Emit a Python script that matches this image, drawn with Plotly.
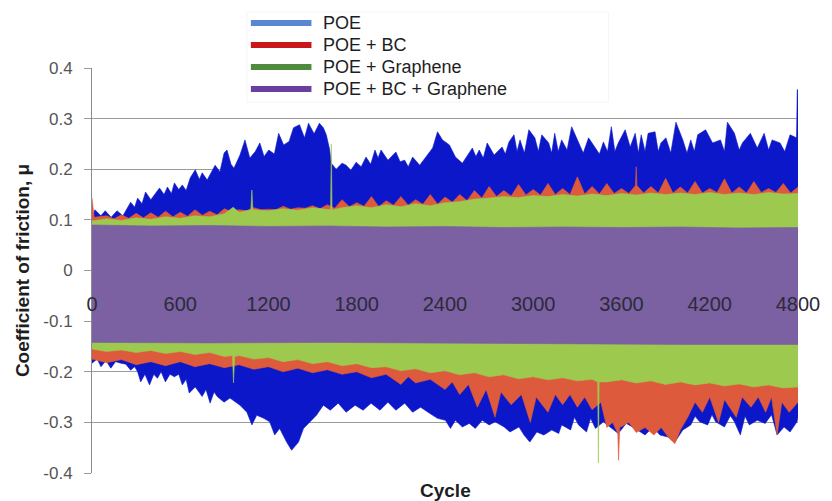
import plotly.graph_objects as go

# ---------------- data ----------------
series_names = ["POE", "POE + BC", "POE + Graphene", "POE + BC + Graphene"]

# POE: upper and lower envelope of the oscillating friction trace
poe_top_cycle = [0, 20, 60, 90, 130, 170, 210, 240, 263, 290, 310, 340, 364, 400, 425, 459, 490, 513, 540, 560,
                 590, 614, 640, 668, 702, 730, 749, 783, 837, 870, 898, 918, 945, 965, 1006, 1040, 1073, 1110,
                 1141, 1170, 1202, 1240, 1269, 1303, 1340, 1370, 1411, 1445, 1472, 1510, 1546, 1573, 1593, 1615,
                 1627, 1660, 1700, 1728, 1760, 1796, 1830, 1863, 1895, 1924, 1945, 1965, 2012, 2066, 2095, 2126,
                 2150, 2180, 2228, 2268, 2316, 2349, 2383, 2430, 2471, 2518, 2550, 2586, 2610, 2633, 2660, 2687,
                 2734, 2788, 2810, 2835, 2869, 2890, 2910, 2940, 2970, 3011, 3035, 3058, 3105, 3125, 3146, 3170,
                 3193, 3230, 3261, 3308, 3340, 3376, 3423, 3450, 3477, 3505, 3531, 3555, 3578, 3625, 3659, 3693,
                 3715, 3734, 3760, 3781, 3828, 3850, 3868, 3902, 3935, 3970, 4017, 4045, 4071, 4095, 4118, 4172,
                 4219, 4273, 4300, 4320, 4368, 4400, 4422, 4476, 4523, 4570, 4600, 4624, 4678, 4710, 4746, 4790,
                 4795, 4800]
poe_top = [0.105, 0.120, 0.108, 0.118, 0.105, 0.118, 0.108, 0.122, 0.135, 0.125, 0.143, 0.132, 0.155, 0.140,
           0.149, 0.163, 0.150, 0.165, 0.152, 0.173, 0.160, 0.169, 0.158, 0.183, 0.199, 0.180, 0.193, 0.179, 0.208,
           0.195, 0.232, 0.238, 0.210, 0.202, 0.228, 0.258, 0.222, 0.235, 0.252, 0.225, 0.238, 0.230, 0.271, 0.248,
           0.255, 0.282, 0.288, 0.262, 0.291, 0.270, 0.291, 0.282, 0.268, 0.240, 0.212, 0.200, 0.212, 0.208, 0.198,
           0.214, 0.205, 0.224, 0.210, 0.238, 0.222, 0.238, 0.218, 0.234, 0.215, 0.218, 0.205, 0.224, 0.208, 0.224,
           0.242, 0.274, 0.258, 0.248, 0.224, 0.212, 0.225, 0.242, 0.225, 0.238, 0.222, 0.252, 0.228, 0.244, 0.230,
           0.254, 0.268, 0.235, 0.258, 0.232, 0.278, 0.262, 0.235, 0.268, 0.252, 0.232, 0.271, 0.235, 0.258, 0.238,
           0.284, 0.252, 0.232, 0.262, 0.242, 0.230, 0.254, 0.235, 0.284, 0.235, 0.252, 0.278, 0.244, 0.271, 0.232,
           0.268, 0.235, 0.271, 0.274, 0.235, 0.252, 0.262, 0.232, 0.293, 0.258, 0.232, 0.258, 0.235, 0.268, 0.278,
           0.252, 0.258, 0.235, 0.293, 0.271, 0.238, 0.252, 0.271, 0.242, 0.271, 0.238, 0.258, 0.252, 0.235, 0.268,
           0.262, 0.357, 0.357]
poe_bot_cycle = [0, 35, 61, 95, 128, 160, 196, 230, 263, 290, 310, 331, 360, 391, 420, 445, 470, 499, 530, 560,
                 590, 614, 640, 661, 702, 749, 775, 803, 830, 851, 898, 938, 1006, 1053, 1087, 1120, 1168, 1208,
                 1242, 1276, 1323, 1357, 1404, 1438, 1479, 1526, 1573, 1620, 1674, 1728, 1789, 1843, 1897, 1958,
                 2012, 2066, 2126, 2180, 2234, 2295, 2349, 2403, 2437, 2471, 2518, 2565, 2606, 2653, 2700, 2741,
                 2802, 2842, 2903, 2937, 2977, 3024, 3072, 3126, 3173, 3193, 3254, 3280, 3308, 3362, 3390, 3423,
                 3477, 3531, 3578, 3632, 3693, 3760, 3814, 3861, 3916, 3963, 4017, 4071, 4100, 4132, 4186, 4215,
                 4240, 4300, 4340, 4368, 4408, 4440, 4469, 4523, 4577, 4620, 4658, 4705, 4746, 4793, 4800]
poe_bot = [-0.183, -0.175, -0.190, -0.178, -0.193, -0.180, -0.183, -0.185, -0.197, -0.190, -0.200, -0.220,
           -0.205, -0.226, -0.205, -0.213, -0.200, -0.220, -0.205, -0.210, -0.205, -0.226, -0.215, -0.242, -0.230,
           -0.249, -0.235, -0.262, -0.240, -0.249, -0.260, -0.252, -0.266, -0.280, -0.305, -0.286, -0.292, -0.299,
           -0.325, -0.312, -0.339, -0.355, -0.339, -0.312, -0.299, -0.286, -0.266, -0.276, -0.262, -0.280, -0.266,
           -0.276, -0.262, -0.276, -0.260, -0.276, -0.262, -0.280, -0.270, -0.282, -0.292, -0.296, -0.312, -0.296,
           -0.309, -0.302, -0.312, -0.296, -0.305, -0.299, -0.309, -0.319, -0.309, -0.325, -0.339, -0.319, -0.325,
           -0.315, -0.322, -0.305, -0.315, -0.290, -0.305, -0.319, -0.292, -0.312, -0.299, -0.312, -0.322, -0.302,
           -0.312, -0.325, -0.309, -0.325, -0.329, -0.339, -0.315, -0.305, -0.288, -0.299, -0.305, -0.285, -0.299,
           -0.309, -0.287, -0.299, -0.325, -0.288, -0.305, -0.296, -0.302, -0.285, -0.325, -0.309, -0.319, -0.299,
           -0.290]

# POE + BC
bc_top_cycle = [0, 15, 100, 150, 200, 250, 300, 350, 400, 450, 500, 550, 600, 650, 700, 750, 800, 850, 900, 950,
                1000, 1050, 1100, 1150, 1200, 1250, 1300, 1350, 1400, 1450, 1500, 1550, 1600, 1650, 1700, 1750,
                1800, 1850, 1900, 1950, 2000, 2050, 2100, 2150, 2200, 2250, 2300, 2350, 2400, 2450, 2500, 2550,
                2600, 2650, 2700, 2750, 2800, 2850, 2900, 2950, 3000, 3050, 3100, 3150, 3200, 3250, 3300, 3350,
                3400, 3450, 3500, 3550, 3600, 3650, 3695, 3700, 3705, 3750, 3800, 3850, 3900, 3950, 4000, 4050,
                4100, 4150, 4200, 4250, 4300, 4350, 4400, 4450, 4500, 4550, 4600, 4650, 4700, 4750, 4800]
bc_top = [0.143, 0.105, 0.108, 0.102, 0.110, 0.103, 0.113, 0.104, 0.114, 0.105, 0.117, 0.106, 0.115, 0.107, 0.120,
          0.109, 0.117, 0.110, 0.122, 0.116, 0.120, 0.118, 0.124, 0.120, 0.121, 0.120, 0.127, 0.121, 0.124, 0.123,
          0.128, 0.122, 0.130, 0.123, 0.140, 0.126, 0.134, 0.127, 0.146, 0.126, 0.138, 0.129, 0.146, 0.129, 0.140,
          0.131, 0.150, 0.131, 0.145, 0.135, 0.150, 0.138, 0.158, 0.143, 0.166, 0.146, 0.158, 0.147, 0.170, 0.149,
          0.160, 0.149, 0.172, 0.150, 0.162, 0.150, 0.185, 0.151, 0.166, 0.151, 0.172, 0.152, 0.162, 0.152, 0.168,
          0.205, 0.168, 0.153, 0.166, 0.153, 0.182, 0.153, 0.165, 0.153, 0.176, 0.153, 0.162, 0.154, 0.181, 0.153,
          0.165, 0.153, 0.176, 0.154, 0.162, 0.154, 0.172, 0.153, 0.165]
bc_bot_cycle = [0, 100, 200, 300, 400, 500, 600, 700, 800, 900, 1000, 1100, 1200, 1300, 1400, 1500, 1600, 1700,
                1800, 1900, 2000, 2100, 2150, 2200, 2300, 2400, 2450, 2500, 2560, 2620, 2680, 2740, 2780, 2850,
                2920, 2980, 3020, 3100, 3150, 3200, 3250, 3300, 3350, 3400, 3460, 3500, 3540, 3575, 3580, 3588,
                3650, 3700, 3760, 3820, 3870, 3920, 3963, 4000, 4050, 4100, 4150, 4200, 4260, 4300, 4380, 4420,
                4480, 4530, 4580, 4620, 4658, 4690, 4740, 4800]
bc_bot = [-0.175, -0.182, -0.176, -0.186, -0.180, -0.188, -0.180, -0.190, -0.184, -0.192, -0.186, -0.195, -0.190,
          -0.200, -0.193, -0.202, -0.196, -0.205, -0.200, -0.212, -0.205, -0.225, -0.210, -0.222, -0.215, -0.235,
          -0.220, -0.245, -0.225, -0.270, -0.235, -0.290, -0.240, -0.265, -0.245, -0.300, -0.250, -0.280, -0.245,
          -0.265, -0.245, -0.270, -0.250, -0.275, -0.260, -0.310, -0.300, -0.322, -0.375, -0.310, -0.300, -0.320,
          -0.310, -0.325, -0.310, -0.330, -0.342, -0.315, -0.290, -0.260, -0.280, -0.250, -0.300, -0.255, -0.290,
          -0.250, -0.270, -0.250, -0.280, -0.250, -0.325, -0.260, -0.280, -0.260]

# POE + Graphene
gr_top_cycle = [0, 100, 200, 300, 400, 500, 600, 700, 800, 900, 960, 1000, 1080, 1087, 1094, 1200, 1300, 1400,
                1500, 1600, 1622, 1627, 1632, 1700, 1800, 1900, 2000, 2100, 2200, 2300, 2400, 2500, 2600, 2700,
                2800, 2900, 3000, 3100, 3200, 3300, 3400, 3500, 3600, 3700, 3800, 3900, 4000, 4100, 4200, 4300,
                4400, 4500, 4600, 4700, 4800]
gr_top = [0.098, 0.102, 0.099, 0.104, 0.101, 0.106, 0.103, 0.108, 0.106, 0.112, 0.125, 0.115, 0.120, 0.159, 0.120,
          0.118, 0.122, 0.119, 0.124, 0.120, 0.120, 0.250, 0.120, 0.124, 0.128, 0.124, 0.130, 0.126, 0.132, 0.128,
          0.134, 0.136, 0.141, 0.143, 0.146, 0.144, 0.148, 0.146, 0.150, 0.147, 0.151, 0.148, 0.152, 0.149, 0.153,
          0.150, 0.153, 0.150, 0.154, 0.150, 0.153, 0.150, 0.154, 0.151, 0.152]
gr_bot_cycle = [0, 100, 200, 300, 400, 500, 600, 700, 800, 900, 955, 962, 970, 1000, 1100, 1200, 1300, 1400, 1500,
                1600, 1700, 1800, 1900, 2000, 2100, 2200, 2300, 2400, 2500, 2600, 2700, 2800, 2900, 3000, 3100,
                3200, 3300, 3400, 3438, 3443, 3448, 3500, 3600, 3700, 3800, 3900, 4000, 4100, 4200, 4300, 4400,
                4500, 4600, 4700, 4800]
gr_bot = [-0.155, -0.160, -0.157, -0.162, -0.158, -0.164, -0.160, -0.166, -0.162, -0.170, -0.168, -0.222, -0.170,
          -0.168, -0.175, -0.172, -0.180, -0.176, -0.184, -0.180, -0.188, -0.184, -0.192, -0.190, -0.198, -0.194,
          -0.202, -0.198, -0.206, -0.202, -0.210, -0.206, -0.214, -0.210, -0.216, -0.212, -0.218, -0.215, -0.220,
          -0.380, -0.220, -0.220, -0.216, -0.222, -0.218, -0.225, -0.220, -0.226, -0.222, -0.228, -0.224, -0.230,
          -0.226, -0.232, -0.230]

# POE + BC + Graphene
bcg_top_cycle = [0, 400, 800, 1200, 1600, 2000, 2400, 2800, 3200, 3600, 4000, 4400, 4800]
bcg_top = [0.090, 0.088, 0.089, 0.087, 0.088, 0.086, 0.087, 0.085, 0.086, 0.085, 0.086, 0.084, 0.085]
bcg_bot_cycle = [0, 800, 1600, 2400, 3200, 4000, 4800]
bcg_bot = [-0.142, -0.143, -0.142, -0.143, -0.145, -0.146, -0.146]

x_tick_vals = [0, 600, 1200, 1800, 2400, 3000, 3600, 4200, 4800]
x_tick_text = ["0", "600", "1200", "1800", "2400", "3000", "3600", "4200", "4800"]
y_tick_vals = [-0.4, -0.3, -0.2, -0.1, 0, 0.1, 0.2, 0.3, 0.4]
y_tick_text = ["-0.4", "-0.3", "-0.2", "-0.1", "0", "0.1", "0.2", "0.3", "0.4"]

# ---------------- styling ----------------
band_colors = ["#0c17c9", "#de5a3c", "#9dc94f", "#7b60a2"]
legend_colors = ["#5b86d3", "#c8161a", "#4e8b3f", "#6b3fa0"]
FONT = "Liberation Sans, Arial, sans-serif"

W, H = 832, 501
ML, MR, MT, MB = 92, 29, 68, 28
PW, PH = W - ML - MR, H - MT - MB


def px_x(px):
    return (px - ML) / PW


def px_y(py):
    return (H - MB - py) / PH


envelopes = [
    (poe_top_cycle, poe_top, poe_bot_cycle, poe_bot),
    (bc_top_cycle, bc_top, bc_bot_cycle, bc_bot),
    (gr_top_cycle, gr_top, gr_bot_cycle, gr_bot),
    (bcg_top_cycle, bcg_top, bcg_bot_cycle, bcg_bot),
]

fig = go.Figure()
for name, color, (tc, tv, bc, bv) in zip(series_names, band_colors, envelopes):
    fig.add_trace(go.Scatter(
        x=list(tc) + list(reversed(bc)),
        y=list(tv) + list(reversed(bv)),
        mode="lines", fill="toself", fillcolor=color,
        line=dict(color=color, width=0.6),
        name=name, showlegend=False, hoverinfo="skip",
    ))

# manual legend (box, swatches, labels)
shapes = [dict(type="rect", xref="paper", yref="paper", layer="above",
               x0=px_x(248), x1=px_x(612), y0=px_y(102), y1=px_y(12),
               fillcolor="white", line=dict(color="#f5f5f5", width=1))]
annotations = []
legend_y = [23, 45, 67, 89]
for name, color, ly in zip(series_names, legend_colors, legend_y):
    shapes.append(dict(type="line", xref="paper", yref="paper", layer="above",
                       x0=px_x(252), x1=px_x(313), y0=px_y(ly), y1=px_y(ly),
                       line=dict(color=color, width=6)))
    annotations.append(dict(xref="paper", yref="paper", x=px_x(323), y=px_y(ly),
                            text=name, showarrow=False, xanchor="left", yanchor="middle",
                            font=dict(family=FONT, size=18, color="#1e1e1e")))

# x-axis title (the axis itself sits inside the plot, so the title is placed at the bottom)
annotations.append(dict(xref="paper", yref="paper", x=0.5, y=px_y(490), text="Cycle",
                        showarrow=False, xanchor="center", yanchor="middle",
                        font=dict(family=FONT, size=19, color="#1e1e1e", weight="bold")))

fig.update_layout(
    width=W, height=H,
    margin=dict(l=ML, r=MR, t=MT, b=MB),
    paper_bgcolor="white", plot_bgcolor="white",
    font=dict(family=FONT),
    showlegend=False,
    shapes=shapes, annotations=annotations,
    xaxis=dict(range=[0, 4800], anchor="free", position=0.452, side="bottom",
               showgrid=False, zeroline=False, showline=False, ticks="",
               tickvals=x_tick_vals, ticktext=x_tick_text,
               tickfont=dict(family=FONT, size=20, color="#2b2b3a")),
    yaxis=dict(range=[-0.4, 0.4], tickvals=y_tick_vals, ticktext=y_tick_text,
               showgrid=True, gridcolor="#9b9b9b", gridwidth=1, zeroline=False,
               showline=True, linecolor="#8c8c8c", linewidth=1,
               ticks="outside", ticklen=7, tickcolor="#9b9b9b", ticklabelstandoff=8,
               tickfont=dict(family=FONT, size=17, color="#555555"),
               title=dict(text="Coefficient of friction, μ", standoff=8,
                          font=dict(family=FONT, size=19, color="#1e1e1e", weight="bold"))),
)

fig.write_html("out.html", config={"displayModeBar": False},
               post_script="document.body.style.margin='0px';")
